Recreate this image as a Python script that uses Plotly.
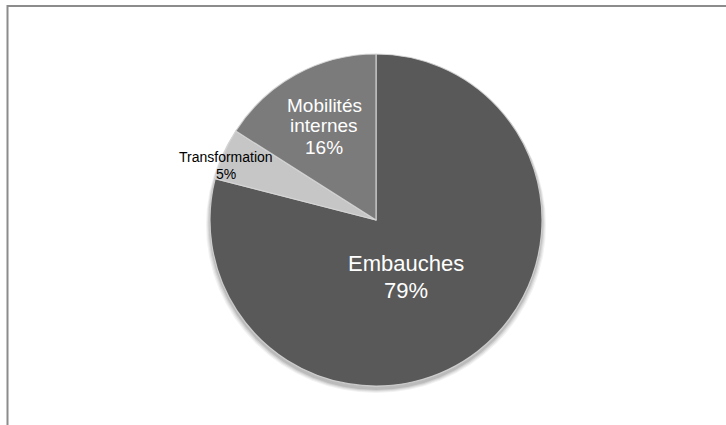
import plotly.graph_objects as go

# Share of recruitment channels (percent)
categories = ["Embauches", "Transformation", "Mobilités internes"]
values = [79, 5, 16]
slice_colors = ["#595959", "#c6c6c6", "#7b7b7b"]

W, H = 726, 425
CX, CY, R = 376, 220, 166  # pie centre and radius in pixels


def px(x):
    return x / W


def py(y):
    return 1 - y / H


fig = go.Figure()
fig.add_trace(go.Pie(
    labels=categories,
    values=values,
    sort=False,
    direction="clockwise",
    rotation=0,
    textinfo="none",
    hoverinfo="label+percent",
    marker=dict(colors=slice_colors,
                line=dict(color="rgba(215,215,215,0.85)", width=1.2)),
    domain=dict(x=[px(CX - R), px(CX + R)], y=[py(CY + R), py(CY - R)]),
    showlegend=False,
))

shapes = []
# soft drop shadow under the pie
for k, a in [(5, 0.05), (4, 0.06), (3, 0.08), (2, 0.10)]:
    shapes.append(dict(type="circle", xref="paper", yref="paper", layer="below",
                       x0=px(CX - R - k + 1), x1=px(CX + R + k - 1),
                       y0=py(CY + R + k + 2), y1=py(CY - R + k - 2),
                       fillcolor=f"rgba(0,0,0,{a})", line=dict(width=0)))
# chart frame
shapes.append(dict(type="rect", xref="paper", yref="paper", layer="above",
                   x0=px(7.5), x1=1.05, y0=-0.05, y1=py(6),
                   line=dict(color="#8c8c8c", width=2), fillcolor="rgba(0,0,0,0)"))

total = sum(values)
pct = {c: f"{round(v / total * 100)}%" for c, v in zip(categories, values)}

# label blocks: (category, wrapped lines, centre x, first line centre y, line step, size, colour)
label_blocks = [
    ("Embauches", ["Embauches"], 406, 263, 27, 22, "white"),
    ("Mobilités internes", ["Mobilités", "internes"], 324, 105, 21, 19, "white"),
    ("Transformation", ["Transformation"], 226, 157, 17, 14, "black"),
]

annotations = []
for cat, lines, x, y0, step, size, color in label_blocks:
    for i, line in enumerate(lines + [pct[cat]]):
        annotations.append(dict(
            x=px(x), y=py(y0 + i * step), xref="paper", yref="paper",
            text=line, showarrow=False, xanchor="center", yanchor="middle",
            font=dict(family="Liberation Sans, Arial, sans-serif", size=size, color=color),
        ))

fig.update_layout(
    width=W, height=H,
    margin=dict(l=0, r=0, t=0, b=0),
    paper_bgcolor="white",
    plot_bgcolor="white",
    shapes=shapes,
    annotations=annotations,
)

fig.write_html("out.html")
